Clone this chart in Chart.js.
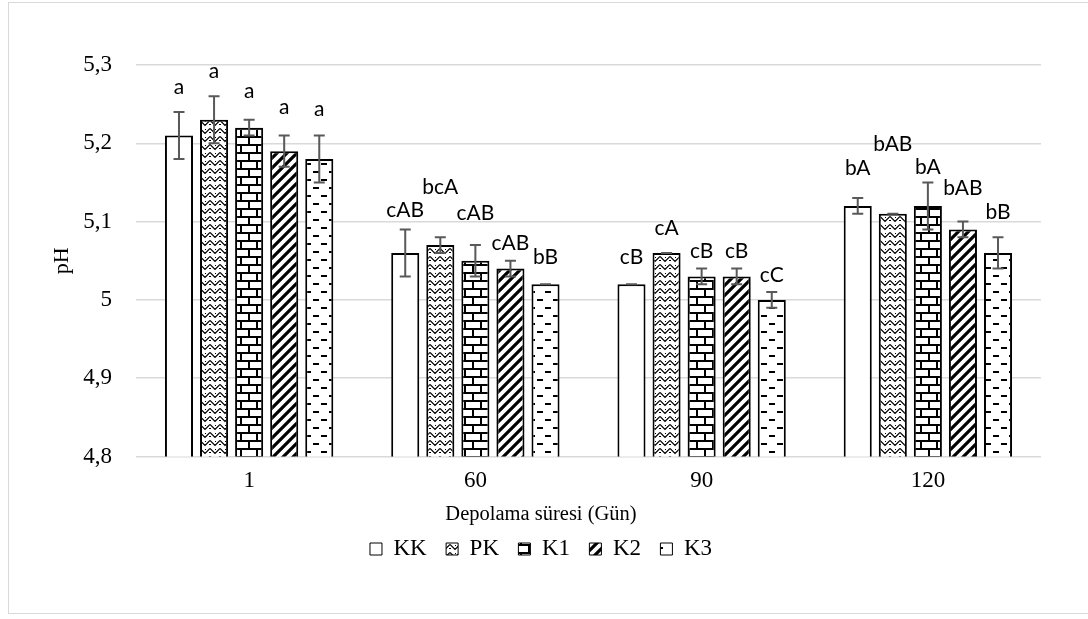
<!DOCTYPE html>
<html><head><meta charset="utf-8">
<script src="https://cdn.jsdelivr.net/npm/chart.js@4.4.1/dist/chart.umd.min.js"></script>
<style>
html,body{margin:0;padding:0;background:#fff;}
#wrap{position:relative;width:1088px;height:619px;overflow:hidden;background:#fff;}
#frame{position:absolute;left:8px;top:2px;width:1100px;height:612px;border:1px solid #d9d9d9;box-sizing:border-box;}
canvas{position:absolute;left:0;top:0;}
</style></head><body>
<div id="wrap"><div id="frame"></div><canvas id="c" width="1088" height="619"></canvas></div>
<script>
// ---- data ----
const categories = ['1', '60', '90', '120'];
const seriesNames = ['KK', 'PK', 'K1', 'K2', 'K3'];
const KK = [5.21, 5.06, 5.02, 5.12];
const PK = [5.23, 5.07, 5.06, 5.11];
const K1 = [5.22, 5.05, 5.03, 5.12];
const K2 = [5.19, 5.04, 5.03, 5.09];
const K3 = [5.18, 5.02, 5.00, 5.06];
const KK_err = [0.03, 0.03, 0.00, 0.01];
const PK_err = [0.03, 0.01, 0.00, 0.00];
const K1_err = [0.01, 0.02, 0.01, 0.03];
const K2_err = [0.02, 0.01, 0.01, 0.01];
const K3_err = [0.03, 0.00, 0.01, 0.02];
const KK_letters = ['a', 'cAB', 'cB', 'bA'];
const PK_letters = ['a', 'bcA', 'cA', 'bAB'];
const K1_letters = ['a', 'cAB', 'cB', 'bA'];
const K2_letters = ['a', 'cAB', 'cB', 'bAB'];
const K3_letters = ['a', 'bB', 'cC', 'bB'];
const yTickLabels = ['4,8', '4,9', '5', '5,1', '5,2', '5,3'];
const xTitle = 'Depolama süresi (Gün)';
const yTitle = 'pH';

// letter annotation anchor heights (in pH units)
const KK_labelAt = [5.272, 5.115, 5.054, 5.168];
const PK_labelAt = [5.292, 5.144, 5.092, 5.199];
const K1_labelAt = [5.266, 5.111, 5.062, 5.170];
const K2_labelAt = [5.246, 5.073, 5.062, 5.143];
const K3_labelAt = [5.243, 5.054, 5.032, 5.112];

const values = [KK, PK, K1, K2, K3];
const errors = [KK_err, PK_err, K1_err, K2_err, K3_err];
const letters = [KK_letters, PK_letters, K1_letters, K2_letters, K3_letters];
const labelAt = [KK_labelAt, PK_labelAt, K1_labelAt, K2_labelAt, K3_labelAt];

// ---- patterns ----
function makePattern(type) {
  if (type === 'plain') return '#ffffff';
  const c = document.createElement('canvas');
  const g = c.getContext('2d');
  if (type === 'zigzag') {
    c.width = 10; c.height = 8;
    g.fillStyle = '#fff'; g.fillRect(0, 0, 10, 8);
    g.strokeStyle = '#000'; g.lineWidth = 1.2;
    g.beginPath();
    g.moveTo(0, 0.5); g.lineTo(5, 5.5); g.lineTo(10, 0.5);
    g.moveTo(0, 8.5); g.lineTo(5, 13.5); g.lineTo(10, 8.5);
    g.moveTo(0, -7.5); g.lineTo(5, -2.5); g.lineTo(10, -7.5);
    g.stroke();
    g.fillStyle = '#000';
    [[0,4],[5,1],[9,4]].forEach(p => g.fillRect(p[0], p[1], 1, 1));
  } else if (type === 'brick') {
    c.width = 16; c.height = 16;
    g.fillStyle = '#fff'; g.fillRect(0, 0, 16, 16);
    g.fillStyle = '#000';
    g.fillRect(0, 0, 16, 2); g.fillRect(0, 8, 16, 2);
    g.fillRect(0, 0, 2, 8); g.fillRect(8, 8, 2, 8);
  } else if (type === 'diag') {
    c.width = 10; c.height = 10;
    g.fillStyle = '#fff'; g.fillRect(0, 0, 10, 10);
    g.strokeStyle = '#000'; g.lineWidth = 3.2;
    g.beginPath();
    g.moveTo(-2, 12); g.lineTo(12, -2);
    g.moveTo(-7, 7); g.lineTo(7, -7);
    g.moveTo(3, 17); g.lineTo(17, 3);
    g.stroke();
  } else if (type === 'dash') {
    c.width = 16; c.height = 16;
    g.fillStyle = '#fff'; g.fillRect(0, 0, 16, 16);
    g.fillStyle = '#000';
    g.fillRect(1, 3, 6, 2); g.fillRect(9, 11, 6, 2);
  }
  return g.createPattern(c, 'repeat');
}
const patternTypes = ['plain', 'zigzag', 'brick', 'diag', 'dash'];
const fills = patternTypes.map(makePattern);

const serif = 'Liberation Serif';

// ---- plugins ----
const errorBarPlugin = {
  id: 'errorBars',
  afterDatasetsDraw(chart) {
    const g = chart.ctx; const ys = chart.scales.y;
    g.save();
    g.strokeStyle = '#595959'; g.lineWidth = 2;
    chart.data.datasets.forEach((ds, i) => {
      const meta = chart.getDatasetMeta(i);
      meta.data.forEach((bar, j) => {
        const v = values[i][j], e = errors[i][j];
        const yt = ys.getPixelForValue(v + e), yb = ys.getPixelForValue(v - e);
        const x = bar.x, cap = 5.5;
        g.beginPath();
        g.moveTo(x, yt); g.lineTo(x, yb);
        g.moveTo(x - cap, yt); g.lineTo(x + cap, yt);
        g.moveTo(x - cap, yb); g.lineTo(x + cap, yb);
        g.stroke();
      });
    });
    g.restore();
  }
};
const letterPlugin = {
  id: 'letters',
  afterDatasetsDraw(chart) {
    const g = chart.ctx; const ys = chart.scales.y;
    g.save();
    g.fillStyle = '#000'; g.font = '21px Lato';
    g.textAlign = 'center'; g.textBaseline = 'middle';
    chart.data.datasets.forEach((ds, i) => {
      chart.getDatasetMeta(i).data.forEach((bar, j) => {
        g.fillText(letters[i][j], bar.x, ys.getPixelForValue(labelAt[i][j]));
      });
    });
    g.restore();
  }
};

Chart.defaults.color = '#000';
new Chart(document.getElementById('c'), {
  type: 'bar',
  data: {
    labels: categories,
    datasets: seriesNames.map((name, i) => ({
      label: name,
      data: values[i],
      backgroundColor: fills[i],
      borderColor: '#000',
      borderWidth: 2,
      categoryPercentage: 0.775,
      barPercentage: 0.8
    }))
  },
  options: {
    responsive: false,
    animation: false,
    devicePixelRatio: 1,
    layout: { padding: { left: 41, right: 47, top: 65, bottom: 48.5 } },
    plugins: {
      legend: {
        position: 'bottom',
        labels: {
          font: { family: serif, size: 23 },
          color: '#000',
          boxWidth: 12, boxHeight: 12, padding: 19.4,
          generateLabels(chart) {
            return Chart.defaults.plugins.legend.labels.generateLabels(chart).map(l => Object.assign(l, { lineWidth: 1 }));
          }
        }
      },
      title: {
        display: true,
        position: 'bottom',
        weight: 500,
        text: xTitle,
        color: '#000',
        font: { family: serif, size: 20.5, weight: 'normal' },
        padding: { top: 0, bottom: -9.2 }
      },
      tooltip: { enabled: false }
    },
    scales: {
      x: {
        grid: { display: false },
        border: { display: false },
        ticks: { font: { family: serif, size: 23 }, color: '#000', padding: 2.5 },
        afterFit(s) { s.height = 46.2; }
      },
      y: {
        min: 4.8, max: 5.3,
        ticks: {
          stepSize: 0.1,
          font: { family: serif, size: 23 }, color: '#000', padding: 24,
          callback: (v) => yTickLabels[Math.round((v - 4.8) * 10)]
        },
        grid: { color: '#d9d9d9', lineWidth: 1.5, drawTicks: false },
        border: { display: false },
        title: { display: true, text: yTitle, font: { family: serif, size: 22 }, color: '#000', padding: { top: 8, bottom: 0 } },
        afterFit(s) { s.width = 95; }
      }
    }
  },
  plugins: [errorBarPlugin, letterPlugin]
});
</script>
</body></html>
